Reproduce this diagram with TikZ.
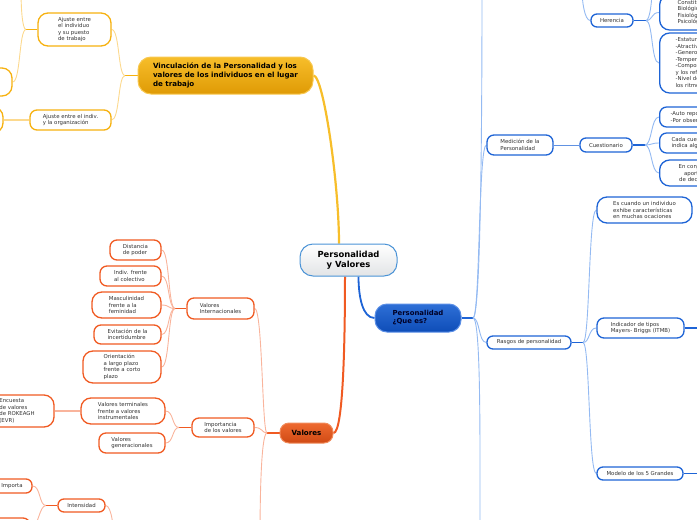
\documentclass[tikz,border=0pt]{standalone}
\usepackage{fontspec}
\setmainfont{DejaVu Sans}
\pgfdeclarelayer{bg}
\pgfsetlayers{bg,main}
\definecolor{orB}{HTML}{F6B10F}
\definecolor{orL}{HTML}{FCD98E}
\definecolor{blB}{HTML}{1E64D6}
\definecolor{blL}{HTML}{94BAF2}
\definecolor{rdB}{HTML}{F05A22}
\definecolor{rdL}{HTML}{F9B49C}
\definecolor{txt}{HTML}{333333}
\definecolor{cBord}{HTML}{4B93D6}
\definecolor{cBot}{HTML}{E2E4E6}
\definecolor{oBord}{HTML}{F8C850}
\definecolor{oTop}{HTML}{F7BE2A}
\definecolor{oBot}{HTML}{DF9A05}
\definecolor{bBord}{HTML}{5B8FE6}
\definecolor{bTop}{HTML}{2E6FD6}
\definecolor{bBot}{HTML}{0E4DB8}
\definecolor{vBord}{HTML}{F08A5A}
\definecolor{vTop}{HTML}{EE6A30}
\definecolor{vBot}{HTML}{D04A14}
\tikzset{
  every node/.style={font=\fontsize{5.4}{6.5}\selectfont, text=txt, inner sep=0pt, align=left},
  basebox/.style={fill=white, line width=1.3pt, rounded corners=7pt},
  obox/.style={basebox, draw=orB},
  bbox/.style={basebox, draw=blB},
  rbox/.style={basebox, draw=rdB},
  sm/.style={rounded corners=6pt},
  big/.style={rounded corners=10pt},
  cnode/.style={draw=cBord, top color=white, bottom color=cBot, line width=1pt, rounded corners=13pt, minimum width=97pt, minimum height=32pt, align=center, text=black, font=\bfseries\fontsize{8.4}{10.5}\selectfont},
  omainst/.style={draw=oBord, top color=oTop, bottom color=oBot, line width=1pt, rounded corners=13pt, minimum width=175pt, minimum height=37pt, text=black, font=\bfseries\fontsize{7.1}{8.8}\selectfont},
  bmainst/.style={draw=bBord, top color=bTop, bottom color=bBot, line width=1pt, rounded corners=12pt, minimum width=86pt, minimum height=28pt, text=black!85!blue, font=\bfseries\fontsize{6.9}{8}\selectfont},
  vmainst/.style={draw=vBord, top color=vTop, bottom color=vBot, line width=1pt, rounded corners=9pt, minimum width=53pt, minimum height=20pt, text=black, font=\bfseries\fontsize{7.1}{8}\selectfont},
  ostub/.style={draw=orB, line width=1.7pt},
  olink/.style={draw=orL, line width=0.9pt},
  olinkw/.style={draw=orL, line width=1.8pt},
  bstub/.style={draw=blB, line width=1.5pt},
  blink/.style={draw=blL, line width=0.9pt},
  rstub/.style={draw=rdB, line width=1.6pt},
  rlink/.style={draw=rdL, line width=0.9pt},
  rlinkw/.style={draw=rdL, line width=1.6pt},
  cv/.style={out=180, in=0, out distance=7pt, in distance=8pt},
  cvr/.style={out=0, in=180, out distance=7pt, in distance=8pt},
}
\begin{document}
\begin{tikzpicture}[x=1pt,y=1pt]
\useasboundingbox (0,0) rectangle (697,-520);
\clip (0,0) rectangle (697,-520);
% main nodes
\node[cnode] (central) at (348.5,-260) {Personalidad\\y Valores};
\node[omainst] (omain) at (225.5,-75.5) {Vinculación de la Personalidad y los\\valores de los individuos en el lugar\\de trabajo};
\node[bmainst] (bmain) at (418,-318) {Personalidad\\¿Que es?};
\node[vmainst] (vmain) at (306.5,-433) {Valores};
% orange branch
\node[obox, big, minimum width=73pt, minimum height=33pt] (ajp) at (74.5,-29.5) {Ajuste entre\\el individuo\\y su puesto\\de trabajo};
\node[obox, minimum width=81pt, minimum height=20pt] (ajo) at (70.5,-120) {Ajuste entre el indiv.\\y la organización};
\node[obox, big, minimum width=72pt, minimum height=28pt] (ol1) at (-24,-82) {};
\node[obox, big, minimum width=63pt, minimum height=26pt] (ol2) at (-28.5,-120) {};
% blue branch
\node[bbox, minimum width=66pt, minimum height=20pt] (med) at (520,-145) {Medición de la\\Personalidad};
\node[bbox, sm, minimum width=52pt, minimum height=14pt] (cue) at (606,-145) {Cuestionario};
\node[bbox, anchor=west, text width=62pt, inner xsep=11pt, minimum height=20pt] (cb1) at (659,-117) {-Auto reporte\\-Por observación};
\node[bbox, anchor=west, text width=62pt, inner xsep=12pt, minimum height=20pt] (cb2) at (659,-143) {Cada cuestión\\indica algo};
\node[bbox, big, anchor=west, text width=70pt, inner xsep=0pt, minimum height=26pt, align=center] (cb3) at (659,-173) {En conjunto\\aportan\\de decisión};
\node[bbox, sm, minimum width=42pt, minimum height=13pt] (her) at (612,-20.5) {Herencia};
\node[bbox, big, anchor=west, text width=55pt, inner xsep=18pt, minimum height=35pt] (hb1) at (659,-12.5) {Constitución\\Biológica\\Fisiológica\\Psicológica};
\node[bbox, big, anchor=west, text width=90pt, inner xsep=16pt, minimum height=60pt] (hb2) at (659,-63) {-Estatura\\-Atractivo\\-Genero\\-Temperamento\\-Composición muscular\\y los reflejos\\-Nivel de energía y\\los ritmos biológicos};
\node[bbox, sm, minimum width=84pt, minimum height=13pt] (ras) at (529,-342.5) {Rasgos de personalidad};
\node[bbox, big, minimum width=95pt, minimum height=26pt] (esc) at (644.5,-210) {Es cuando un individuo\\exhibe características\\en muchas ocaciones};
\node[bbox, minimum width=87pt, minimum height=20pt] (ind) at (640.5,-328) {Indicador de tipos\\Mayers- Briggs (ITMB)};
\node[bbox, sm, minimum width=86pt, minimum height=13pt] (mod) at (640,-473.5) {Modelo de los 5 Grandes};
% red branch
\node[rbox, minimum width=67pt, minimum height=21pt] (vint) at (220.5,-308.5) {Valores\\Internacionales};
\node[rbox, minimum width=51pt, minimum height=20pt] (dist) at (135.5,-250) {Distancia\\de poder};
\node[rbox, minimum width=61pt, minimum height=20pt] (indiv) at (130.5,-276) {Indiv. frente\\al colectivo};
\node[rbox, big, minimum width=69pt, minimum height=26pt] (masc) at (126.5,-305) {Masculinidad\\frente a la\\feminidad};
\node[rbox, minimum width=67pt, minimum height=19pt] (evit) at (127.5,-334.5) {Evitación de la\\incertidumbre};
\node[rbox, big, minimum width=78pt, minimum height=32pt] (orient) at (122,-367) {Orientación\\a largo plazo\\frente a corto\\plazo};
\node[rbox, minimum width=62pt, minimum height=19pt] (imp) at (223,-427.5) {Importancia\\de los valores};
\node[rbox, big, minimum width=84pt, minimum height=26pt] (vterm) at (123,-411) {Valores terminales\\frente a valores\\instrumentales};
\node[rbox, minimum width=66pt, minimum height=20pt] (vgen) at (132,-443) {Valores\\generacionales};
\node[rbox, big, minimum width=74pt, minimum height=32pt] (enc) at (17,-411) {Encuesta\\de valores\\de ROKEAGH\hspace*{6pt}\\(EVR)};
\node[rbox, sm, minimum width=47pt, minimum height=13pt] (intens) at (81.5,-505.5) {Intensidad};
\node[rbox, sm, minimum width=44pt, minimum height=14pt] (importa) at (10,-486) {\hspace*{4pt}Importa};
\node[rbox, minimum width=45pt, minimum height=20pt] (rlow) at (7.5,-528) {};
% junctions and off-picture ends
\coordinate (Jo) at (125,-75.5);
\coordinate (Ja) at (26,-29.5);
\coordinate (Jb) at (473,-318);
\coordinate (Jc) at (645,-145);
\coordinate (Jh) at (646,-20.5);
\coordinate (Jr) at (583,-342.5);
\coordinate (Jv) at (267,-433);
\coordinate (Jvi) at (175,-308.5);
\coordinate (Ji) at (179,-427.5);
\coordinate (Jn) at (46,-505.5);
\coordinate (offA) at (21,10);
\coordinate (offB) at (482,10);
\coordinate (offBd) at (480,-540);
\coordinate (offH) at (582,10);
\coordinate (offHJ) at (652,10);
\coordinate (offV) at (260,-540);
\coordinate (offI) at (114,-540);
\coordinate (eInd) at (702,-328);
\coordinate (eMod) at (702,-473.5);
\begin{pgfonlayer}{bg}
% main connectors
\draw[draw=oTop, line width=2.2pt] (omain.east) to[out=0,in=90,out distance=10pt,in distance=60pt] ([xshift=-9.5pt]central.north);
\draw[draw=blB, line width=1.8pt] ([xshift=10pt]central.south) to[out=-90,in=180,out distance=20pt,in distance=12pt] (bmain.west);
\draw[draw=rdB, line width=2pt] ([xshift=-3.5pt]central.south) to[out=-90,in=0,out distance=60pt,in distance=10pt] (vmain.east);
% orange
\draw[ostub] (omain.west) -- (Jo);
\draw[olink] (Jo) to[cv] (ajp.east);
\draw[olink] (Jo) to[cv] (ajo.east);
\draw[ostub] (ajp.west) -- (Ja);
\draw[olink] (Ja) to[out=180,in=-90,out distance=4pt,in distance=15pt] (offA);
\draw[olink] (Ja) to[cv] (ol1.east);
\draw[olinkw] (ajo.west) -- (ol2.east);
% blue
\draw[bstub] (bmain.east) -- (Jb);
\draw[blink] (Jb) to[out=0,in=-90,out distance=8pt,in distance=120pt] (offB);
\draw[blink] (Jb) to[cvr] (med.west);
\draw[blink] (Jb) to[cvr] (ras.west);
\draw[blink] (Jb) to[out=0,in=90,out distance=8pt,in distance=100pt] (offBd);
\draw[draw=blB!70, line width=1pt] (med.east) -- (cue.west);
\draw[bstub] (cue.east) -- (Jc);
\draw[blink] (Jc) to[cvr] (cb1.west);
\draw[blink] (Jc) to[cvr] (cb2.west);
\draw[blink] (Jc) to[cvr] (cb3.west);
\draw[blink] (offH) to[out=-90,in=180,out distance=10pt,in distance=6pt] (her.west);
\draw[bstub] (her.east) -- (Jh);
\draw[blink] (Jh) to[cvr] (hb1.west);
\draw[blink] (Jh) to[cvr] (hb2.west);
\draw[blink] (Jh) to[out=0,in=-90,out distance=4pt,in distance=10pt] (offHJ);
\draw[bstub] (ras.east) -- (Jr);
\draw[blink] (Jr) to[cvr] (esc.west);
\draw[blink] (Jr) to[cvr] (ind.west);
\draw[blink] (Jr) to[cvr] (mod.west);
\draw[bstub] (ind.east) -- (eInd);
\draw[bstub] (mod.east) -- (eMod);
% red
\draw[rstub] (vmain.west) -- (Jv);
\draw[rlink] (Jv) to[out=180,in=0,out distance=5pt,in distance=8pt] (vint.east);
\draw[rlink] (Jv) to[out=180,in=0,out distance=5pt,in distance=8pt] (imp.east);
\draw[rlink] (Jv) to[out=180,in=90,out distance=5pt,in distance=60pt] (offV);
\draw[rstub] (vint.west) -- (Jvi);
\foreach \n in {dist,indiv,masc,evit,orient} \draw[rlink] (Jvi) to[cv] (\n.east);
\draw[rstub] (imp.west) -- (Ji);
\draw[rlink] (Ji) to[cv] (vterm.east);
\draw[rlink] (Ji) to[cv] (vgen.east);
\draw[rlinkw] (vterm.west) -- (enc.east);
\draw[rlink] (intens.east) to[out=0,in=90,out distance=6pt,in distance=10pt] (offI);
\draw[rstub] (intens.west) -- (Jn);
\draw[rlink] (Jn) to[cv] (importa.east);
\draw[rlink] (Jn) to[cv] (rlow.east);
\end{pgfonlayer}
\end{tikzpicture}
\end{document}
